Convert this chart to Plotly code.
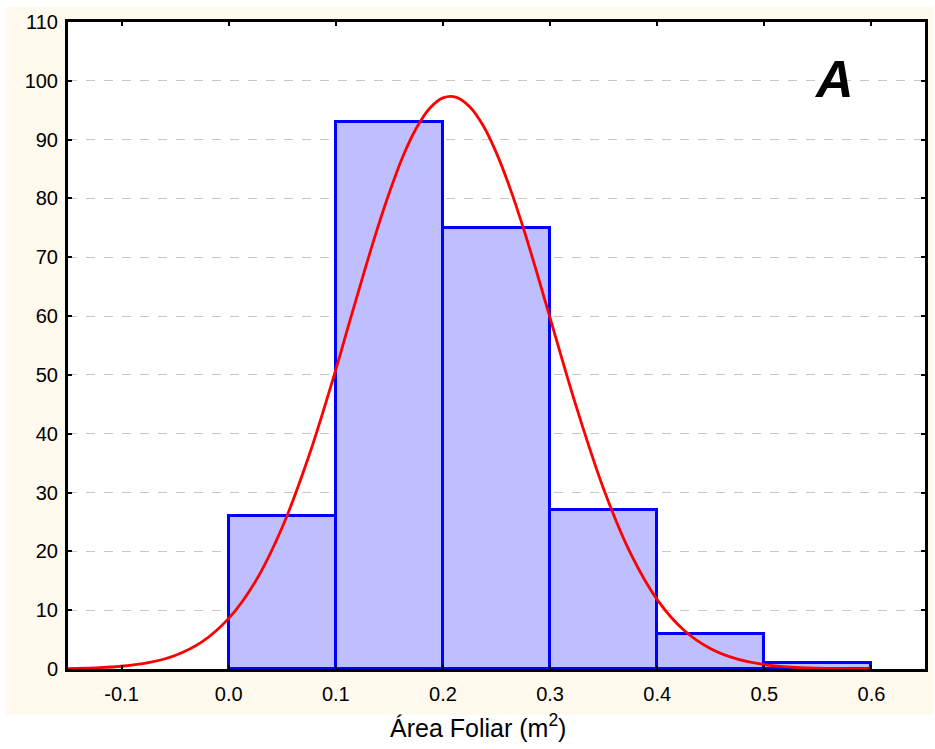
import plotly.graph_objects as go

# Histogram bins (centres, width 0.1) and counts
bin_centers = [0.05, 0.15, 0.25, 0.35, 0.45, 0.55]
bin_counts = [26, 93, 75, 27, 6, 1]

# Fitted normal curve
curve_x = [-0.15, -0.125, -0.1, -0.075, -0.05, -0.025, 0.0, 0.025, 0.05, 0.075,
           0.1, 0.1125, 0.125, 0.1375, 0.15, 0.1625, 0.175, 0.1875, 0.2, 0.2125,
           0.225, 0.2375, 0.25, 0.2625, 0.275, 0.2875, 0.3, 0.325,
           0.35, 0.375, 0.4, 0.425, 0.45, 0.475, 0.5, 0.525, 0.55, 0.575, 0.6]
curve_y = [0.07, 0.19, 0.47, 1.08, 2.3, 4.6, 8.6, 14.9, 24.1, 36.3,
           50.9, 58.8, 66.6, 74.1, 81.0, 87.1, 91.9, 95.3, 97.1, 97.2,
           95.6, 92.4, 87.7, 81.8, 75.0, 67.5, 59.7, 44.3,
           30.6, 19.7, 11.8, 6.6, 3.45, 1.67, 0.76, 0.32, 0.13, 0.05, 0.02]

x_ticks = [-0.1, 0.0, 0.1, 0.2, 0.3, 0.4, 0.5, 0.6]
x_tick_labels = ["-0.1", "0.0", "0.1", "0.2", "0.3", "0.4", "0.5", "0.6"]
y_ticks = list(range(0, 111, 10))

fig = go.Figure()
fig.add_trace(go.Bar(
    x=bin_centers, y=bin_counts, width=0.1,
    marker=dict(color="#BFBFFF", line=dict(color="#0000FF", width=3)),
    showlegend=False, hoverinfo="x+y"))
fig.add_trace(go.Scatter(
    x=curve_x, y=curve_y, mode="lines",
    line=dict(color="#FF0000", width=2.8, shape="spline", smoothing=1.0),
    showlegend=False))

font_main = "Arial"
fig.update_layout(
    width=935, height=749,
    margin=dict(l=68, r=7, t=22, b=80),
    paper_bgcolor="white", plot_bgcolor="white",
    bargap=0,
    font=dict(family=font_main, size=20, color="black"),
    shapes=[
        dict(type="rect", xref="paper", yref="paper",
             x0=-0.0721, x1=1.01, y0=-0.0711, y1=1.0232,
             fillcolor="#FFF9EE", line=dict(width=0), layer="below"),
        dict(type="rect", xref="paper", yref="paper",
             x0=0, x1=1, y0=0, y1=1,
             fillcolor="white", line=dict(width=0), layer="below"),
    ],
    annotations=[
        dict(text="<b><i>A</i></b>", x=0.5655, y=100.3, xref="x", yref="y",
             showarrow=False, font=dict(size=52, family=font_main, color="black")),
        dict(text="Área Foliar (m<sup>2</sup>)", x=0.478, y=-0.088,
             xref="paper", yref="paper", xanchor="center", yanchor="middle",
             showarrow=False, font=dict(size=25, family=font_main, color="black")),
    ],
)
fig.update_xaxes(
    range=[-0.15, 0.65], tickvals=x_ticks, ticktext=x_tick_labels,
    showgrid=False, zeroline=False,
    showline=True, linecolor="black", linewidth=3, mirror="ticks",
    ticks="inside", ticklen=4, tickwidth=2, tickcolor="black",
    ticklabelstandoff=5)
fig.update_yaxes(
    range=[0, 110], tickvals=y_ticks,
    showgrid=True, gridcolor="#C8C8C8", griddash="dash", gridwidth=1,
    zeroline=False,
    showline=True, linecolor="black", linewidth=3, mirror="ticks",
    ticks="inside", ticklen=4, tickwidth=2, tickcolor="black",
    ticklabelstandoff=3)

fig.write_html("out.html",
               config={"displayModeBar": False},
               post_script="document.body.style.margin='0';document.body.style.overflow='hidden';")
